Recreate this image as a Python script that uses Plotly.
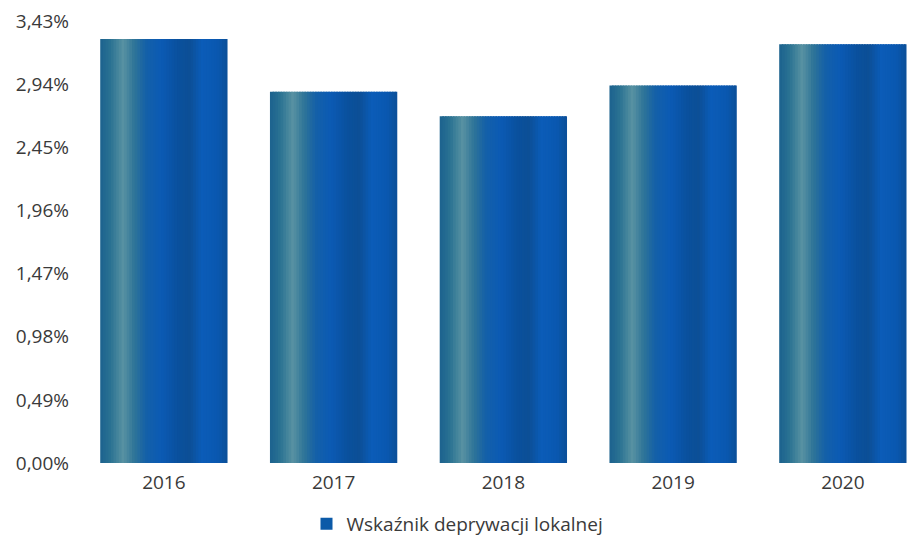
import plotly.graph_objects as go

# ---- data ----
years = ["2016", "2017", "2018", "2019", "2020"]
values = [3.29, 2.88, 2.69, 2.93, 3.25]
y_tickvals = [0.0, 0.49, 0.98, 1.47, 1.96, 2.45, 2.94, 3.43]
y_ticktext = ["0,00%", "0,49%", "0,98%", "1,47%", "1,96%", "2,45%", "2,94%", "3,43%"]
series_name = "Wskaźnik deprywacji lokalnej"

# ---- horizontal gradient of the bars (cylinder-like shading) ----
stops = [
    (0.00, (0x1c, 0x62, 0x8e)),
    (0.08, (0x2a, 0x72, 0x92)),
    (0.18, (0x58, 0x92, 0xa2)),
    (0.27, (0x2e, 0x74, 0x98)),
    (0.36, (0x14, 0x60, 0xa8)),
    (0.48, (0x0b, 0x5a, 0xb4)),
    (0.62, (0x0a, 0x50, 0x9c)),
    (0.70, (0x0c, 0x4f, 0x96)),
    (0.80, (0x0b, 0x5c, 0xb8)),
    (0.92, (0x0a, 0x58, 0xb0)),
    (1.00, (0x0b, 0x4f, 0x98)),
]


def grad(t):
    for (t0, c0), (t1, c1) in zip(stops[:-1], stops[1:]):
        if t0 <= t <= t1:
            f = (t - t0) / (t1 - t0) if t1 > t0 else 0
            c = [round(a + (b - a) * f) for a, b in zip(c0, c1)]
            return "rgb(%d,%d,%d)" % tuple(c)
    return "rgb(%d,%d,%d)" % stops[-1][1]


bar_w = 0.75
n_slices = 48
slice_w = bar_w / n_slices

fig = go.Figure()
for i in range(n_slices):
    t = (i + 0.5) / n_slices
    fig.add_trace(go.Bar(
        x=years,
        y=values,
        width=slice_w * 1.6 if i < n_slices - 1 else slice_w,
        offset=-bar_w / 2 + i * slice_w,
        marker=dict(color=grad(t), line=dict(width=0)),
        name=series_name,
        showlegend=False,
        hoverinfo="skip",
    ))

# legend entry
fig.add_trace(go.Bar(
    x=[None], y=[None],
    marker=dict(color="#0b5aa8", line=dict(width=0)),
    name=series_name,
    showlegend=True,
))

# page body has an 8px default margin, so the figure is offset by 8px
W, H = 907, 534
fig.update_layout(
    width=W,
    height=H,
    margin=dict(l=71, r=0, t=13, b=79),
    paper_bgcolor="white",
    plot_bgcolor="white",
    barmode="overlay",
    font=dict(family="Open Sans, Noto Sans, sans-serif", color="#3a3a3a"),
    xaxis=dict(
        type="category",
        range=[-0.5, 4.425],
        showgrid=False,
        zeroline=False,
        showline=False,
        ticks="",
        tickfont=dict(size=19, color="#3a3a3a"),
        ticklabelstandoff=6,
    ),
    yaxis=dict(
        range=[0, 3.43],
        tickvals=y_tickvals,
        ticktext=y_ticktext,
        showgrid=False,
        zeroline=False,
        showline=False,
        ticks="",
        tickfont=dict(size=19, color="#3a3a3a"),
        ticklabelstandoff=9,
        ticklabeloverflow="allow",
    ),
    legend=dict(
        orientation="h",
        xref="container",
        yref="container",
        x=(457.5 - 8) / W,
        xanchor="center",
        y=1 - (524 - 8) / H,
        yanchor="middle",
        font=dict(size=19, color="#3a3a3a"),
        itemwidth=30,
    ),
)

fig.write_html("out.html")
